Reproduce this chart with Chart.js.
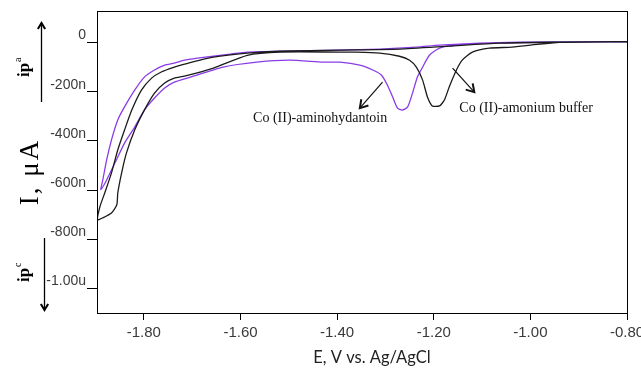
<!DOCTYPE html>
<html>
<head>
<meta charset="utf-8">
<script src="https://cdn.jsdelivr.net/npm/chart.js@4/dist/chart.umd.min.js"></script>
<style>
  html, body { margin: 0; padding: 0; background: #fff; }
  #wrap { width: 641px; height: 369px; }
</style>
</head>
<body>
<div id="wrap"><canvas id="cv" width="641" height="369"></canvas></div>
<script>
// potentials (V vs Ag/AgCl) and currents (nA)
// forward sweep from -0.80 to the negative end, then the return sweep
const bufferE = [-0.80, -0.941, -0.982, -1.038, -1.085, -1.120, -1.141, -1.153, -1.168, -1.178, -1.188, -1.203,
    -1.213, -1.223, -1.236, -1.250, -1.271, -1.312, -1.360, -1.394, -1.518, -1.586, -1.656, -1.716, -1.737,
    -1.757, -1.778, -1.799, -1.819, -1.836, -1.846, -1.854, -1.856, -1.867, -1.885, -1.896,
    -1.891, -1.881, -1.867, -1.854, -1.840, -1.825, -1.805, -1.784, -1.764, -1.737, -1.716, -1.656, -1.586,
    -1.518, -1.394, -1.271, -1.168, -1.065, -0.962, -0.80];
const bufferI = [3, 1, -7, -19, -23, -39, -72, -112, -181, -234, -258, -258,
    -222, -153, -100, -72, -56, -43, -39, -39, -39, -52, -104, -137, -145,
    -165, -206, -275, -356, -449, -530, -612, -660, -693, -713, -721,
    -668, -612, -530, -437, -356, -275, -194, -145, -120, -100, -88, -60, -43,
    -35, -31, -27, -15, -3, 1, 3];

const hydantoinE = [-0.80, -0.941, -1.085, -1.153, -1.188, -1.209, -1.223, -1.234, -1.244, -1.254, -1.265,
    -1.275, -1.285, -1.296, -1.308, -1.326, -1.353, -1.394, -1.429, -1.498, -1.566, -1.636, -1.704, -1.737,
    -1.757, -1.778, -1.799, -1.819, -1.840, -1.860, -1.877, -1.889,
    -1.885, -1.877, -1.867, -1.854, -1.840, -1.819, -1.799, -1.778, -1.757, -1.737, -1.716, -1.689, -1.656,
    -1.621, -1.586, -1.518, -1.394, -1.312, -1.236, -1.188, -1.106, -1.023, -0.80];
const hydantoinI = [3, 1, -3, -11, -23, -52, -100, -141, -206, -262, -275,
    -267, -222, -173, -133, -112, -92, -80, -80, -72, -80, -100, -141, -161,
    -185, -226, -275, -344, -409, -490, -559, -598,
    -559, -477, -396, -315, -262, -194, -141, -112, -92, -84, -72, -64, -56,
    -47, -39, -35, -31, -27, -19, -11, -3, 1, 3];

const seriesNames = ["Co (II)-amonium buffer", "Co (II)-aminohydantoin"];
const xTickValues = [-1.8, -1.6, -1.4, -1.2, -1.0, -0.8];
const xTickLabels = ["-1.80", "-1.60", "-1.40", "-1.20", "-1.00", "-0.80"];
const yTickValues = [-1000, -800, -600, -400, -200, 0];
const yTickLabels = ["-1.00u", "-800n", "-600n", "-400n", "-200n", "0"];

// labels pointing at the two reduction peaks (data units)
const notes = [
    { text: seriesNames[1], at: [-1.574, -307], from: [-1.306, -161], to: [-1.353, -267] },
    { text: seriesNames[0], at: [-1.147, -267], from: [-1.161, -104], to: [-1.116, -202] },
];

function pairs(xs, ys) {
    return xs.map((x, i) => ({ x, y: ys[i] }));
}

function arrow(ctx, x1, y1, x2, y2, head) {
    ctx.beginPath();
    ctx.moveTo(x1, y1);
    ctx.lineTo(x2, y2);
    ctx.stroke();
    const a = Math.atan2(y2 - y1, x2 - x1);
    ctx.save();
    ctx.lineWidth = 2;
    ctx.beginPath();
    ctx.moveTo(x2 - head * Math.cos(a - 0.55), y2 - head * Math.sin(a - 0.55));
    ctx.lineTo(x2, y2);
    ctx.lineTo(x2 - head * Math.cos(a + 0.55), y2 - head * Math.sin(a + 0.55));
    ctx.stroke();
    ctx.restore();
}

function rotatedLabel(ctx, text, sup, x, y) {
    ctx.save();
    ctx.translate(x, y);
    ctx.rotate(-Math.PI / 2);
    ctx.font = "bold 17px 'Liberation Serif', serif";
    ctx.textAlign = "center";
    ctx.textBaseline = "alphabetic";
    const w = ctx.measureText(text).width;
    ctx.fillText(text, 0, 0);
    ctx.font = "10px 'Liberation Serif', serif";
    ctx.textAlign = "left";
    ctx.fillText(sup, w / 2 + 1, -8);
    ctx.restore();
}

const extras = {
    id: "extras",
    afterDraw(chart) {
        const { ctx, chartArea: a, scales } = chart;
        const xs = scales.x, ys = scales.y;
        ctx.save();
        ctx.strokeStyle = "#000";
        ctx.lineWidth = 1;
        ctx.strokeRect(Math.round(a.left) + 0.5, Math.round(a.top) + 0.5,
            Math.round(a.right - a.left), Math.round(a.bottom - a.top));

        // y title
        ctx.fillStyle = "#000";
        ctx.save();
        ctx.translate(38, 172);
        ctx.rotate(-Math.PI / 2);
        ctx.font = "27px 'Liberation Serif', serif";
        ctx.textAlign = "center";
        ctx.textBaseline = "alphabetic";
        if ("letterSpacing" in ctx) ctx.letterSpacing = "2px";
        ctx.fillText("I, μA", 0, 0);
        ctx.restore();

        // anodic / cathodic markers
        rotatedLabel(ctx, "ip", "a", 29, 70);
        rotatedLabel(ctx, "ip", "c", 29, 275);
        ctx.strokeStyle = "#000";
        ctx.lineWidth = 1.3;
        arrow(ctx, 41.5, 102, 41.5, 23, 7);
        arrow(ctx, 44.5, 238, 44.5, 310, 7);

        // x title
        ctx.font = "16.5px Lato, 'Open Sans', sans-serif";
        ctx.fillStyle = "#222";
        ctx.textAlign = "center";
        ctx.textBaseline = "middle";
        ctx.fillText("E, V vs. Ag/AgCl", 372, 358);

        // peak labels
        ctx.font = "14px 'Liberation Serif', serif";
        ctx.fillStyle = "#111";
        ctx.textAlign = "left";
        ctx.strokeStyle = "#111";
        ctx.lineWidth = 1.2;
        notes.forEach((n) => {
            ctx.fillText(n.text, xs.getPixelForValue(n.at[0]), ys.getPixelForValue(n.at[1]));
            arrow(ctx, xs.getPixelForValue(n.from[0]), ys.getPixelForValue(n.from[1]),
                xs.getPixelForValue(n.to[0]), ys.getPixelForValue(n.to[1]), 9);
        });
        ctx.restore();
    },
};

new Chart(document.getElementById("cv"), {
    type: "scatter",
    data: {
        datasets: [
            {
                label: seriesNames[0],
                data: pairs(bufferE, bufferI),
                showLine: true,
                borderColor: "#1b1b1b",
                borderWidth: 1.3,
                pointRadius: 0,
                tension: 0.2,
            },
            {
                label: seriesNames[1],
                data: pairs(hydantoinE, hydantoinI),
                showLine: true,
                borderColor: "#8a3be8",
                borderWidth: 1.3,
                pointRadius: 0,
                tension: 0.2,
            },
        ],
    },
    options: {
        responsive: false,
        animation: false,
        layout: { padding: { top: 11, right: 14, left: 0, bottom: 0 } },
        plugins: { legend: { display: false }, tooltip: { enabled: false } },
        scales: {
            x: {
                type: "linear",
                min: -1.897,
                max: -0.8,
                afterBuildTicks: (s) => { s.ticks = xTickValues.map((v) => ({ value: v })); },
                afterFit: (s) => { s.height = 56; s.paddingLeft = 0; s.paddingRight = 0; },
                ticks: {
                    callback: (v, i) => xTickLabels[i],
                    autoSkip: false,
                    maxRotation: 0,
                    padding: 4,
                    color: "#3a3a3a",
                    font: { family: "'Liberation Sans', Arial, sans-serif", size: 15 },
                },
                grid: { drawOnChartArea: false, drawTicks: true, tickLength: 7, color: "#000" },
                border: { display: true, color: "#000", width: 1 },
            },
            y: {
                type: "linear",
                min: -1100,
                max: 128,
                afterBuildTicks: (s) => { s.ticks = yTickValues.map((v) => ({ value: v })); },
                afterFit: (s) => { s.width = 97; s.paddingTop = 0; s.paddingBottom = 0; },
                ticks: {
                    callback: (v, i) => yTickLabels[i],
                    autoSkip: false,
                    padding: 1,
                    labelOffset: -7,
                    color: "#3a3a3a",
                    font: { family: "'Liberation Sans Narrow', 'Liberation Sans', sans-serif", size: 14 },
                },
                grid: { drawOnChartArea: false, drawTicks: true, tickLength: 10, color: "#000" },
                border: { display: true, color: "#000", width: 1 },
            },
        },
    },
    plugins: [extras],
});
</script>
</body>
</html>
